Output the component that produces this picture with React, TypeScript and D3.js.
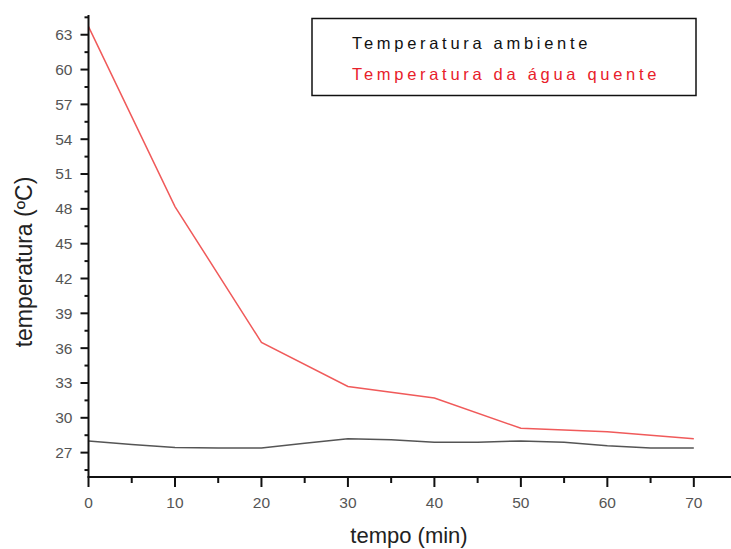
import React from "react";
import * as d3 from "d3";

const timeHot = [0, 10, 20, 30, 40, 50, 60, 70];
const tempHot = [63.7, 48.2, 36.5, 32.7, 31.7, 29.1, 28.8, 28.2];
const timeAmb = [0, 5, 10, 15, 20, 25, 30, 35, 40, 45, 50, 55, 60, 65, 70];
const tempAmb = [28.0, 27.7, 27.45, 27.4, 27.4, 27.8, 28.2, 28.1, 27.9, 27.9, 28.0, 27.9, 27.6, 27.4, 27.4];
const xTicks = [0, 10, 20, 30, 40, 50, 60, 70];
const yTicks = [27, 30, 33, 36, 39, 42, 45, 48, 51, 54, 57, 60, 63];
const legendLabels = ["Temperatura ambiente", "Temperatura da água quente"];

export default function App() {
  const W = 731, H = 549;
  const x = d3.scaleLinear().domain([0, 74.3]).range([88.5, 731]);
  const y = d3.scaleLinear().domain([24.9, 64.7]).range([477, 15]);
  const xMinor = d3.range(5, 74, 10);
  const yMinor = d3.range(25.5, 64.6, 3);
  const line = d3.line<[number, number]>().x(d => x(d[0])).y(d => y(d[1]));
  const hot = line(timeHot.map((t, i) => [t, tempHot[i]] as [number, number]))!;
  const amb = line(timeAmb.map((t, i) => [t, tempAmb[i]] as [number, number]))!;
  const font = "Arial, 'Liberation Sans', sans-serif";
  return (
    <svg width={W} height={H} style={{ position: "absolute", left: 0, top: 0, background: "#fff" }}>
      <path d={amb} fill="none" stroke="#555" strokeWidth={1.5} />
      <path d={hot} fill="none" stroke="#f05a5a" strokeWidth={1.5} />
      {/* y axis */}
      <line x1={x(0)} x2={x(0)} y1={y(64.7)} y2={y(24.9)} stroke="#111" strokeWidth={2} />
      {yTicks.map(t => (
        <g key={"y" + t}>
          <line x1={x(0) - 8} x2={x(0)} y1={y(t)} y2={y(t)} stroke="#111" strokeWidth={2} />
          <text x={x(0) - 16} y={y(t)} dy="0.35em" textAnchor="end" fontSize={15.5} fill="#555" fontFamily={font}>{t}</text>
        </g>
      ))}
      {yMinor.map(t => (
        <line key={"ym" + t} x1={x(0) - 4} x2={x(0)} y1={y(t)} y2={y(t)} stroke="#111" strokeWidth={2} />
      ))}
      {/* x axis */}
      <line x1={x(0) - 1} x2={731} y1={y(24.9)} y2={y(24.9)} stroke="#111" strokeWidth={2} />
      {xTicks.map(t => (
        <g key={"x" + t}>
          <line x1={x(t)} x2={x(t)} y1={y(24.9)} y2={y(24.9) + 10} stroke="#111" strokeWidth={2} />
          <text x={x(t)} y={y(24.9) + 31} textAnchor="middle" fontSize={15.5} fill="#555" fontFamily={font}>{t}</text>
        </g>
      ))}
      {xMinor.map(t => (
        <line key={"xm" + t} x1={x(t)} x2={x(t)} y1={y(24.9)} y2={y(24.9) + 6} stroke="#111" strokeWidth={2} />
      ))}
      <text x={409} y={543} textAnchor="middle" fontSize={22} fill="#222" fontFamily={font}>tempo (min)</text>
      <text transform="translate(32,262) rotate(-90)" textAnchor="middle" fontSize={23} fill="#222" fontFamily={font}>temperatura (ºC)</text>
      {/* legend */}
      <rect x={312} y={18.5} width={384} height={77} fill="#fff" stroke="#111" strokeWidth={1.5} />
      <text x={352} y={49} fontSize={16.5} fill="#111" fontFamily={font} letterSpacing={3.7}>{legendLabels[0]}</text>
      <text x={352} y={80} fontSize={16.5} fill="#e8202a" fontFamily={font} letterSpacing={3.7}>{legendLabels[1]}</text>
    </svg>
  );
}
